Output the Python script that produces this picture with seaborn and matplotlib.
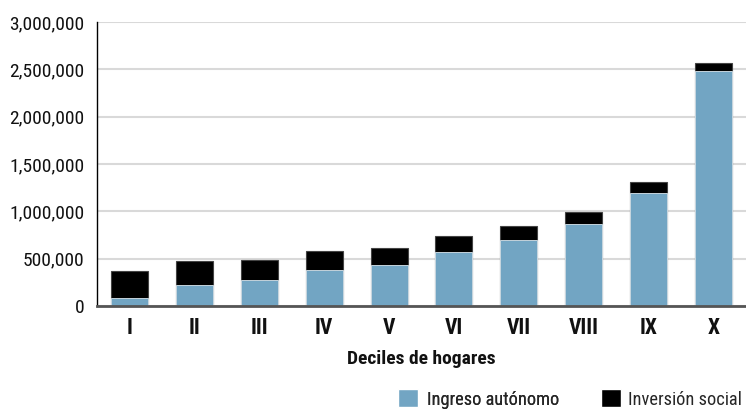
import numpy as np
import seaborn as sns
import pandas as pd
import matplotlib.pyplot as plt
from matplotlib.patches import Patch
from matplotlib.ticker import FuncFormatter, FixedLocator
from matplotlib import font_manager

deciles = ['I', 'II', 'III', 'IV', 'V', 'VI', 'VII', 'VIII', 'IX', 'X']
ingreso_autonomo = [82000, 222000, 271000, 377000, 430000, 567000, 694000, 863000, 1190000, 2486000]
inversion_social = [288000, 253000, 215000, 204000, 179000, 176000, 154000, 127000, 117000, 77000]

df = pd.DataFrame({'decil': deciles, 'ingreso': ingreso_autonomo, 'social': inversion_social})
df['total'] = df['ingreso'] + df['social']

# pick a condensed font if one is there, otherwise Roboto a bit smaller
installed = {f.name for f in font_manager.fontManager.ttflist}
fam, k = 'Roboto', 0.87
for cand in ['Roboto Condensed', 'Liberation Sans Narrow', 'Open Sans Condensed']:
    if cand in installed:
        fam, k = cand, 1.0
        break

sns.set_style('white')
plt.rcParams['font.family'] = [fam, 'DejaVu Sans']

blue = '#72a5c3'

fig = plt.figure(figsize=(7.46, 4.09), dpi=100)
ax = fig.add_axes([97 / 746, 1 - 306 / 409, 649 / 746, 284 / 409])

ax.yaxis.grid(True, color='#d9d9d9', lw=1.5)
ax.set_axisbelow(True)

# total first (black), then ingreso on top of it
sns.barplot(data=df, x='decil', y='total', color='black', width=0.57,
            edgecolor='#444444', linewidth=0.8, saturation=1, ax=ax)
sns.barplot(data=df, x='decil', y='ingreso', color=blue, width=0.57,
            edgecolor='#dbe8f0', linewidth=0.6, saturation=1, ax=ax)

ax.set_ylim(0, 3000000)
ax.set_xlim(-0.5, 9.5)
ax.set_yticks(np.arange(0, 3000001, 500000))
ax.yaxis.set_major_formatter(FuncFormatter(lambda v, p: f'{int(v):,}'))
ax.tick_params(axis='y', length=6, width=1, color='black', labelsize=14 * k, pad=3, labelcolor='#111111')

ax.tick_params(axis='x', which='major', length=0, labelsize=15.5 * k, pad=8, labelcolor='#111111')
ax.xaxis.set_minor_locator(FixedLocator(np.arange(-0.5, 10, 1)))
ax.tick_params(axis='x', which='minor', length=7, width=1.5, color='#444444')
for lbl in ax.get_xticklabels():
    lbl.set_fontweight('bold')

ax.set_xlabel('Deciles de hogares', fontsize=14 * k, fontweight='bold', labelpad=8, color='#111111')
ax.set_ylabel('')

for s in ['top', 'right']:
    ax.spines[s].set_visible(False)
ax.spines['left'].set_color('black')
ax.spines['left'].set_linewidth(1)
ax.spines['bottom'].set_color('#555555')
ax.spines['bottom'].set_linewidth(2)

leg1 = fig.legend(handles=[Patch(facecolor=blue, label='Ingreso autónomo')],
                  loc='center left', bbox_to_anchor=(398 / 746, 1 - 399 / 409),
                  frameon=False, fontsize=13.2 * k, handlelength=1.1, handleheight=1.1,
                  handletextpad=0.5, borderaxespad=0, borderpad=0)
fig.add_artist(leg1)
fig.legend(handles=[Patch(facecolor='black', label='Inversión social')],
           loc='center left', bbox_to_anchor=(601 / 746, 1 - 399 / 409),
           frameon=False, fontsize=13.2 * k, handlelength=1.1, handleheight=1.1,
           handletextpad=0.4, borderaxespad=0, borderpad=0)

plt.savefig('out.png', dpi=100)
